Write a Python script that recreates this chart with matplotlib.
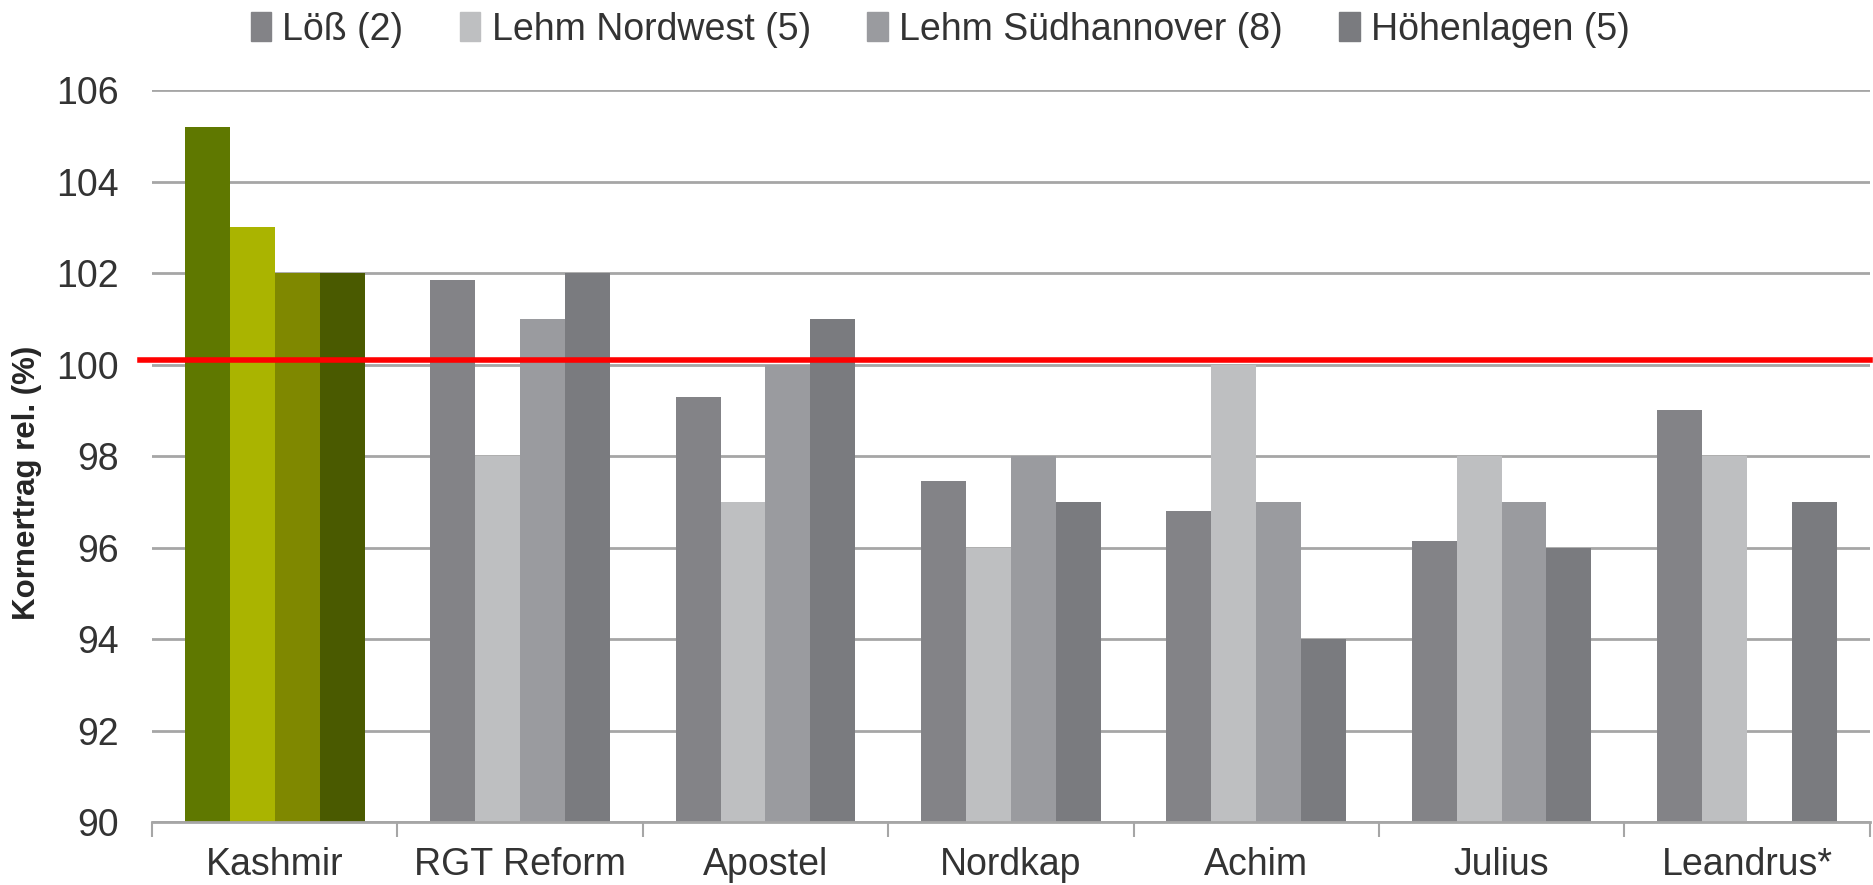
import matplotlib.pyplot as plt
import numpy as np

plt.rcParams['font.family'] = ['Liberation Sans', 'DejaVu Sans']

sorten = ["Kashmir", "RGT Reform", "Apostel", "Nordkap", "Achim", "Julius", "Leandrus*"]
serien = ["Löß (2)", "Lehm Nordwest (5)", "Lehm Südhannover (8)", "Höhenlagen (5)"]
loess = [105.2, 101.85, 99.3, 97.45, 96.8, 96.15, 99.0]
lehm_nw = [103.0, 98.0, 97.0, 96.0, 100.0, 98.0, 98.0]
lehm_sh = [102.0, 101.0, 100.0, 98.0, 97.0, 97.0, np.nan]
hoehen = [102.0, 102.0, 101.0, 97.0, 94.0, 96.0, 97.0]
referenz = 100.1

grau = ["#838387", "#bebfc1", "#9a9b9f", "#7a7b7f"]
gruen = ["#5f7800", "#aab400", "#7f8800", "#4a5a00"]
txt = "#333333"

fig = plt.figure(figsize=(18.73, 8.85), dpi=100)
ax = fig.add_axes([0.0812, 0.0712, 0.917, 0.827])

x = np.arange(len(sorten))
w = 0.183
data = [loess, lehm_nw, lehm_sh, hoehen]
for i, (name, vals) in enumerate(zip(serien, data)):
    cols = [gruen[i]] + [grau[i]] * (len(sorten) - 1)
    pos = x + (i - 1.5) * w
    ax.bar(pos, np.array(vals) - 90, w, bottom=90, color=cols, label=name, zorder=2)

ax.set_ylim(90, 106)
ax.set_xlim(-0.5, len(sorten) - 0.5)
ax.set_yticks(np.arange(90, 107, 2))
ax.yaxis.grid(True, color="#a6a6a6", linewidth=2, zorder=0)
ax.set_axisbelow(True)
for s in ["top", "right", "left"]:
    ax.spines[s].set_visible(False)
ax.spines["bottom"].set_color("#a6a6a6")
ax.spines["bottom"].set_linewidth(2)

ax.set_xticks(x)
ax.set_xticklabels(sorten, fontsize=27, color=txt)
ax.set_xticks(np.arange(-0.5, len(sorten), 1), minor=True)
ax.tick_params(axis="x", which="major", length=0, pad=18)
ax.tick_params(axis="x", which="minor", length=11, width=1.5, color="#a6a6a6")
ax.tick_params(axis="y", length=0, labelsize=27, labelcolor=txt, pad=24)
ax.set_ylabel("Kornertrag rel. (%)", fontsize=22.5, fontweight="bold", color="#262626")
ax.yaxis.set_label_coords(-0.064, 0.464)

ax.axhline(referenz, xmin=-0.007, xmax=1.0, color="#ff0000", linewidth=4, zorder=3, clip_on=False)

handles, labels = ax.get_legend_handles_labels()
leg = fig.legend(handles, labels, loc="upper center", bbox_to_anchor=(0.502, 1.025), ncol=4,
                 frameon=False, fontsize=27, handlelength=0.55, handleheight=0.8,
                 handletextpad=0.3, columnspacing=1.5, labelcolor=txt)
for h, c in zip(leg.legend_handles, grau):
    h.set_color(c)

fig.savefig("out.png", dpi=100)
